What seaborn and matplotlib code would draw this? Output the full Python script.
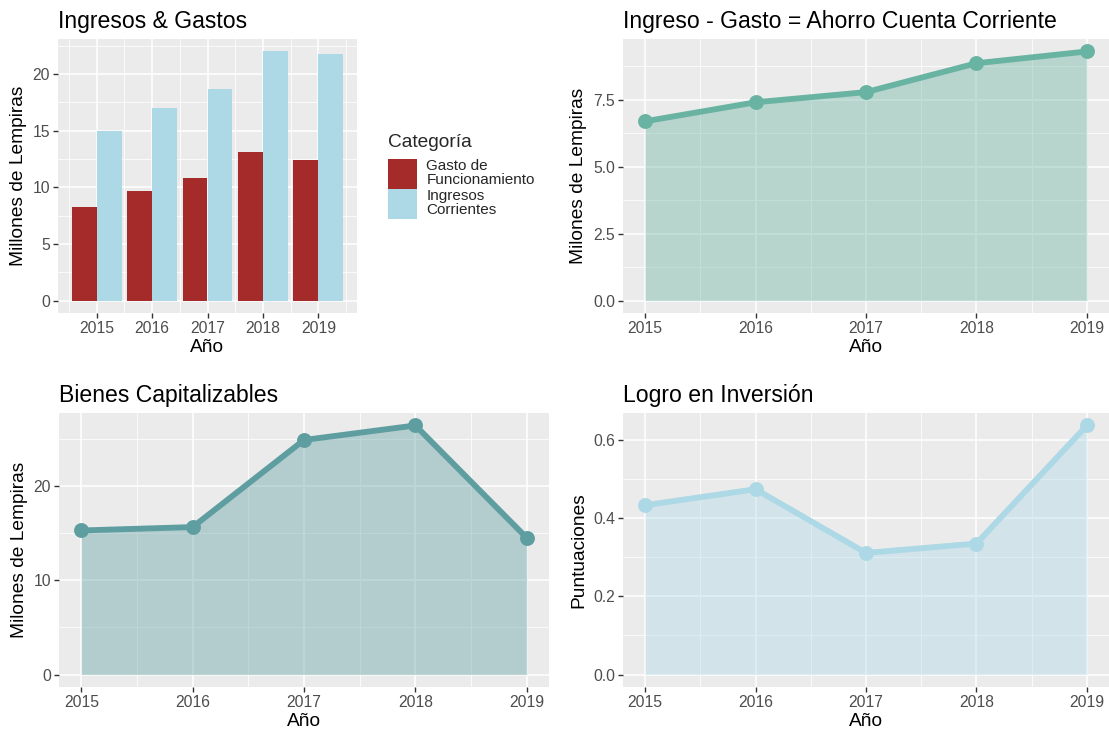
import matplotlib
matplotlib.use("Agg")
import matplotlib.pyplot as plt
import seaborn as sns
import pandas as pd
from matplotlib.ticker import MultipleLocator, FixedLocator

# ---------------- data ----------------
years = [2015, 2016, 2017, 2018, 2019]
gasto_funcionamiento = [8.3, 9.7, 10.85, 13.15, 12.45]
ingresos_corrientes = [15.0, 17.05, 18.67, 22.0, 21.77]
ahorro_corriente = [6.70, 7.41, 7.79, 8.87, 9.31]
bienes_capitalizables = [15.27, 15.63, 24.86, 26.4, 14.49]
logro_inversion = [0.433, 0.474, 0.311, 0.335, 0.637]
categorias = ["Gasto de\nFuncionamiento", "Ingresos\nCorrientes"]

titles = ["Ingresos & Gastos", "Ingreso - Gasto = Ahorro Cuenta Corriente",
          "Bienes Capitalizables", "Logro en Inversión"]

# ---------------- theme ----------------
sns.set_theme(style="darkgrid")
plt.rcParams['font.family'] = ['Liberation Sans', 'DejaVu Sans']

W, H = 1109, 734
fig = plt.figure(figsize=(W / 100, H / 100), dpi=100)


def px_axes(l, t, r, b):
    return fig.add_axes([l / W, 1 - b / H, (r - l) / W, (b - t) / H])


def style(ax, title, ylabel, xlabel="Año"):
    ax.set_facecolor("#EBEBEB")
    ax.set_axisbelow(True)
    ax.grid(which="major", color="white", lw=1.1)
    ax.grid(which="minor", color="white", lw=0.55)
    for s in ax.spines.values():
        s.set_visible(False)
    ax.tick_params(which="major", length=3.3, width=1.0, color="#333333",
                   labelsize=11.3, labelcolor="#4D4D4D", pad=2.5,
                   bottom=True, left=True)
    ax.tick_params(which="minor", length=0, bottom=False, left=False)
    ax.set_title(title, loc="left", fontsize=16.6, color="black", pad=8)
    ax.set_xlabel(xlabel, fontsize=13.8, color="black", labelpad=2)
    ax.set_ylabel(ylabel, fontsize=13.8, color="black", labelpad=4)


# ---------------- panel 1: bars ----------------
df_bar = pd.DataFrame({
    "Año": years * 2,
    "Valor": gasto_funcionamiento + ingresos_corrientes,
    "Categoría": [categorias[0]] * len(years) + [categorias[1]] * len(years),
})
ax1 = px_axes(58, 39, 357, 313)
sns.barplot(data=df_bar, x="Año", y="Valor", hue="Categoría",
            palette=["#A52A2A", "#ADD8E6"], width=0.9, native_scale=True,
            saturation=1, errorbar=None, linewidth=0, ax=ax1)
ax1.set_xlim(2014.305, 2019.695)
ax1.set_ylim(-1.1, 23.1)
ax1.xaxis.set_major_locator(FixedLocator(years))
ax1.xaxis.set_minor_locator(FixedLocator([y - 0.5 for y in years] + [years[-1] + 0.5]))
ax1.yaxis.set_major_locator(MultipleLocator(5))
ax1.yaxis.set_minor_locator(MultipleLocator(2.5))
ax1.set_xticklabels([str(y) for y in years])
style(ax1, titles[0], "Millones de Lempiras")

handles, labels = ax1.get_legend_handles_labels()
if ax1.get_legend() is not None:
    ax1.get_legend().remove()
leg = fig.legend(handles, labels, title="Categoría", loc="upper left",
                 bbox_to_anchor=(376 / W, 1 - 122 / H), frameon=False,
                 fontsize=11.0, title_fontsize=13.8, handlelength=1.9,
                 handleheight=2.64, labelspacing=0.0, handletextpad=0.6,
                 borderpad=0.3, alignment="left")
for t in leg.get_texts():
    t.set_linespacing(0.95)
try:
    leg._legend_box.sep = 5.5
except Exception:
    pass


# ---------------- area panels ----------------
def area(ax, y, color, major, minor, fmt=None):
    ax.fill_between(years, 0, y, color=color, alpha=0.4, lw=0, zorder=2)
    sns.lineplot(x=years, y=y, color=color, lw=4.2, ax=ax, zorder=3)
    sns.scatterplot(x=years, y=y, color=color, s=115, linewidth=0, ax=ax, zorder=4)
    ax.set_xlim(2014.8, 2019.2)
    top = max(y)
    ax.set_ylim(-0.05 * top, top * 1.05)
    ax.xaxis.set_major_locator(FixedLocator(years))
    ax.xaxis.set_minor_locator(FixedLocator([v + 0.5 for v in years[:-1]]))
    ax.yaxis.set_major_locator(MultipleLocator(major))
    ax.yaxis.set_minor_locator(MultipleLocator(minor))
    if fmt:
        ax.yaxis.set_major_formatter(fmt)


ax2 = px_axes(623, 39, 1109, 313)
area(ax2, ahorro_corriente, "#69B3A2", 2.5, 1.25, "{x:.1f}")
style(ax2, titles[1], "Milones de Lempiras")

ax3 = px_axes(59, 413, 549, 687)
area(ax3, bienes_capitalizables, "#5F9EA0", 10, 5, "{x:.0f}")
style(ax3, titles[2], "Milones de Lempiras")

ax4 = px_axes(623, 413, 1109, 687)
area(ax4, logro_inversion, "#ADD8E6", 0.2, 0.1, "{x:.1f}")
style(ax4, titles[3], "Puntuaciones")

fig.savefig("out.png", dpi=100, facecolor="white")
